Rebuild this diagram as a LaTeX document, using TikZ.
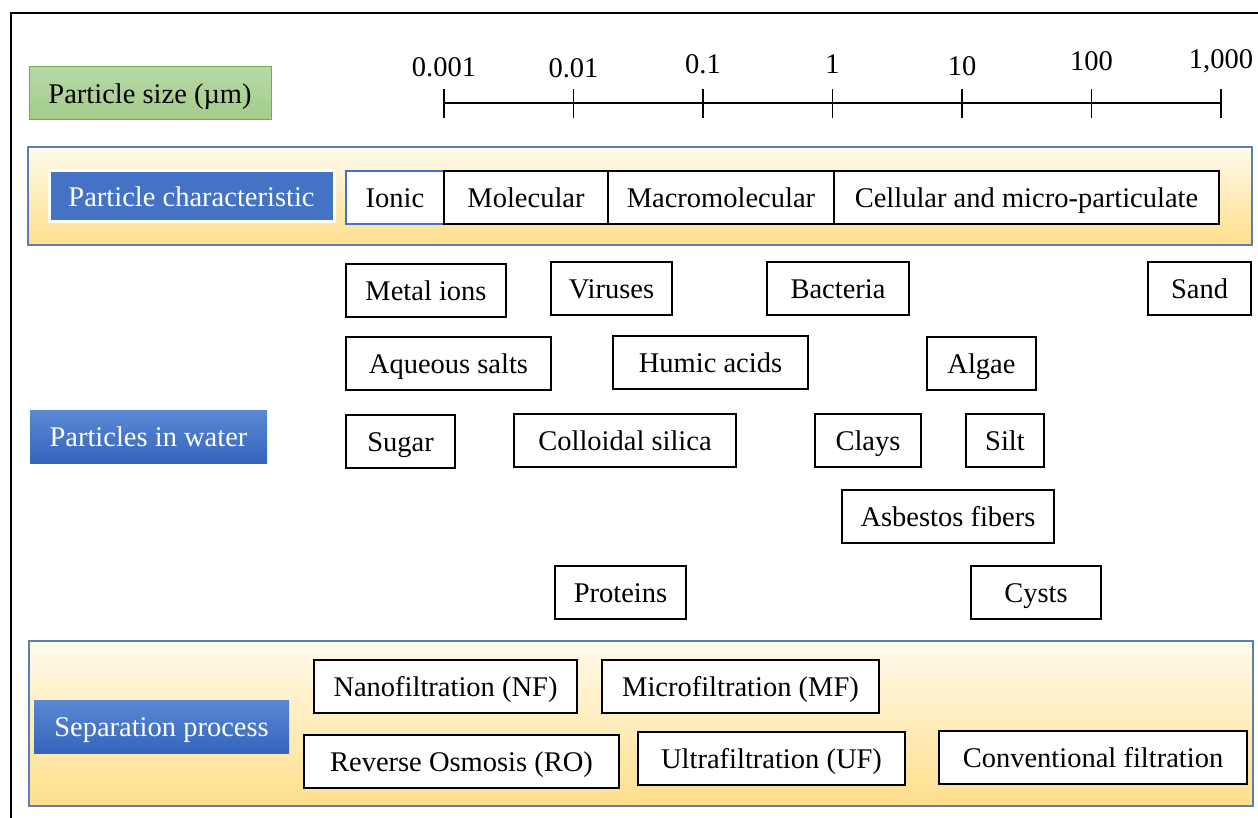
\documentclass[tikz,border=0pt]{standalone}
\usepackage{fontspec}
\setmainfont{Liberation Serif}
\usetikzlibrary{positioning}

\definecolor{bandedge}{HTML}{5B80AE}
\definecolor{bandtop}{HTML}{FFFAEC}
\definecolor{bandbot}{HTML}{FFDF8C}
\definecolor{headblue}{HTML}{4472C4}
\definecolor{blueup}{HTML}{5C88D3}
\definecolor{bluedown}{HTML}{3465BD}
\definecolor{greenup}{HTML}{B6D9A4}
\definecolor{greendown}{HTML}{A3CC8B}
\definecolor{greenedge}{HTML}{70AD47}

\tikzset{
  txt/.style={font=\fontsize{28.5}{32}\selectfont},
  boxtxt/.style={txt, text height=22.5pt, text depth=2.5pt},
  item/.style={boxtxt, draw=black, line width=1.6pt, fill=white, minimum height=53pt,
    inner sep=0pt, outer sep=0pt},
  band/.style={draw=bandedge, line width=1.6pt, top color=bandtop, bottom color=bandbot,
    minimum width=1224pt, inner sep=0pt},
  head/.style={boxtxt, text=white, top color=blueup, bottom color=bluedown,
    minimum height=53pt, inner sep=0pt},
}

\begin{document}
\begin{tikzpicture}[x=1pt,y=-1pt]
\useasboundingbox (0,0) rectangle (1258,818);

% frame
\draw[line width=2pt] (11,818) -- (11,13) -- (1258,13);

% size scale
\node[boxtxt, draw=greenedge, line width=1pt, top color=greenup, bottom color=greendown,
  minimum width=242pt, minimum height=53pt, inner sep=0pt] (size) at (150,93.5) {Particle size (\textmu m)};
\coordinate (axL) at (444,103);
\coordinate (axR) at (1221,103);
\draw[line width=1.6pt] (axL) -- (axR);
\foreach \lab/\ly [count=\i from 0] in {0.001/67,0.01/68,0.1/64,1/64,10/66,100/61,{1,000}/61}{
  \draw[line width=1.8pt] (444+\i*129.5,89) -- (444+\i*129.5,118);
  \node[txt] (t\i) at (444+\i*129.5,\ly) {\lab};
}

% particle characteristic
\node[band, minimum height=98pt] (charband) at (640,196) {};
\node[boxtxt, text=white, fill=headblue, draw=white, line width=3pt, minimum width=285pt,
  minimum height=51pt, inner sep=0pt] (charhead) at (191.5,196.5) {Particle characteristic};
\node[item, draw=headblue, minimum width=98pt] (ionic) at (395,197.5) {Ionic};
\node[item, minimum width=164pt, right=0pt of ionic] (molec) {Molecular};
\node[item, minimum width=226pt, right=0pt of molec] (macro) {Macromolecular};
\node[item, minimum width=385pt, right=0pt of macro] (cell) {Cellular and micro-particulate};

% particles in water
\node[head, minimum width=237pt] (waterhead) at (148.5,436.5) {Particles in water};
\node[item, minimum width=160pt] (metal) at (426,290.5) {Metal ions};
\node[item, minimum width=121pt] (virus) at (611.5,288.5) {Viruses};
\node[item, minimum width=142pt] (bact) at (838,288.5) {Bacteria};
\node[item, minimum width=103pt] (sand) at (1199.5,288.5) {Sand};
\node[item, minimum width=205pt] (salts) at (448.5,363.5) {Aqueous salts};
\node[item, minimum width=195pt] (humic) at (710.5,362.5) {Humic acids};
\node[item, minimum width=109pt] (algae) at (981.5,363.5) {Algae};
\node[item, minimum width=109pt] (sugar) at (400.5,441.5) {Sugar};
\node[item, minimum width=222pt] (silica) at (625,440.5) {Colloidal silica};
\node[item, minimum width=106pt] (clays) at (868,440.5) {Clays};
\node[item, minimum width=78pt] (silt) at (1005,440.5) {Silt};
\node[item, minimum width=212pt] (asbest) at (948,516.5) {Asbestos fibers};
\node[item, minimum width=131pt] (prot) at (620.5,592.5) {Proteins};
\node[item, minimum width=130pt] (cysts) at (1036,592.5) {Cysts};

% separation process
\node[band, minimum height=165pt] (sepband) at (641,723.5) {};
\node[head, minimum width=255pt] (sephead) at (161.5,726.5) {Separation process};
\node[item, minimum width=263pt] (nf) at (445.5,686.5) {Nanofiltration (NF)};
\node[item, minimum width=277pt] (mf) at (740.5,686.5) {Microfiltration (MF)};
\node[item, minimum width=315pt] (ro) at (461.5,761.5) {Reverse Osmosis (RO)};
\node[item, minimum width=267pt] (uf) at (771.5,758.5) {Ultrafiltration (UF)};
\node[item, minimum width=308pt] (conv) at (1093,757.5) {Conventional filtration};
\end{tikzpicture}
\end{document}
